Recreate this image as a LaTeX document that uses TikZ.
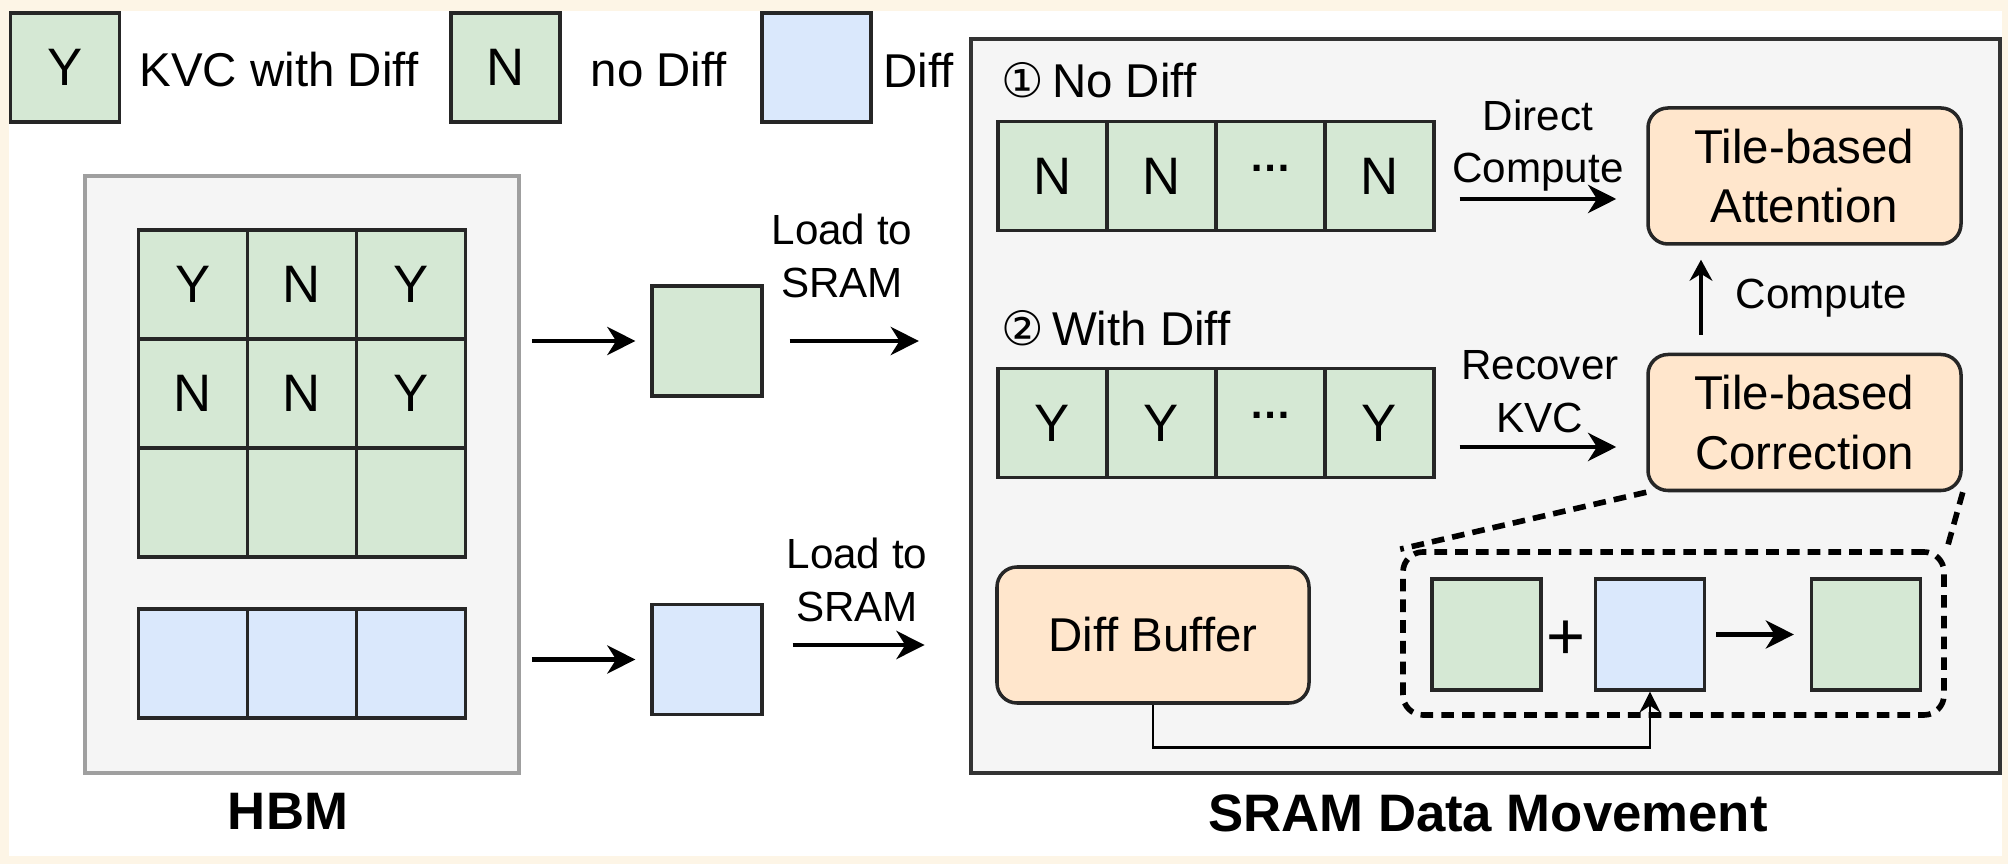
\documentclass[tikz,border=0pt]{standalone}
\usepackage{fontspec}
\setmainfont{Liberation Sans}
\newfontfamily\circfont{DejaVu Sans}
\usetikzlibrary{arrows.meta,positioning,calc}

\definecolor{kvgreen}{HTML}{D5E8D4}
\definecolor{diffblue}{HTML}{DAE8FC}
\definecolor{peach}{HTML}{FFE6CC}
\definecolor{panel}{HTML}{F5F5F5}
\definecolor{cream}{HTML}{FDF5E6}
\newcommand{\tiledots}{\raisebox{0.3em}{\bfseries\fontsize{12}{12}\selectfont\char"2026}}

\begin{document}
\begin{tikzpicture}[>={Stealth[length=8pt,width=8pt,inset=2.5pt]},x=1cm,y=-1cm,
  cell/.style={rectangle,draw=black!85,line width=0.9pt,fill=kvgreen,minimum width=1.09cm,minimum height=1.09cm,inner sep=0pt,font=\fontsize{15}{18}\selectfont},
  dcell/.style={cell,fill=diffblue},
  panelbox/.style={rectangle,fill=panel,inner sep=0pt},
  unit/.style={rectangle,rounded corners=0.2cm,draw=black!85,line width=1pt,fill=peach,align=center,minimum width=3.13cm,minimum height=1.36cm,font=\fontsize{13.5}{17}\selectfont},
  txt/.style={font=\fontsize{13.5}{16}\selectfont,inner sep=0pt},
  lbl/.style={font=\fontsize{12}{15}\selectfont,align=center,inner sep=0pt},
  heading/.style={font=\fontsize{15}{18}\selectfont\bfseries,inner sep=0pt},
  arr/.style={->,line width=1.3pt},
  feed/.style={->,line width=0.8pt,>={Stealth[length=6pt,width=6pt,inset=2pt]}},
  zoomline/.style={line width=1.6pt,dash pattern=on 3.6pt off 2.3pt}]
% page: cream frame round a white sheet
\fill[cream] (0,0) rectangle (20.08,8.64);
\fill[white] (0.09,0.11) rectangle (20.02,8.56);
\useasboundingbox (0,0) rectangle (20.08,8.64);
% legend along the top
\node[cell] (keyY) at (0.65,0.675) {Y};
\node[txt,anchor=west] (keyYt) at (1.39,0.70) {KVC with Diff};
\node[cell] (keyN) at (5.055,0.675) {N};
\node[txt,anchor=west] (keyNt) at (5.90,0.70) {no Diff};
\node[dcell] (keyD) at (8.165,0.675) {};
\node[txt,anchor=west] (keyDt) at (8.83,0.70) {Diff};
% HBM with the KV cache tiles and the diff tiles
\node[panelbox,draw=gray!75,line width=1.1pt,minimum width=4.34cm,minimum height=5.97cm] (hbm) at (3.02,4.745) {};
\node[cell] (h11) at (1.93,2.845) {Y};
\node[cell] (h12) at (3.02,2.845) {N};
\node[cell] (h13) at (4.11,2.845) {Y};
\node[cell] (h21) at (1.93,3.935) {N};
\node[cell] (h22) at (3.02,3.935) {N};
\node[cell] (h23) at (4.11,3.935) {Y};
\node[cell] (h31) at (1.93,5.025) {};
\node[cell] (h32) at (3.02,5.025) {};
\node[cell] (h33) at (4.11,5.025) {};
\node[dcell] (d1) at (1.93,6.635) {};
\node[dcell] (d2) at (3.02,6.635) {};
\node[dcell] (d3) at (4.11,6.635) {};
\node[heading] (hbmlbl) at (2.88,8.11) {HBM};
% tiles on their way to SRAM
\node[cell,minimum width=1.10cm,minimum height=1.10cm] (sg) at (7.07,3.41) {};
\node[dcell,minimum width=1.10cm,minimum height=1.10cm] (sb) at (7.07,6.595) {};
% SRAM panel
\node[panelbox,draw=black!80,line width=1.2pt,minimum width=10.29cm,minimum height=7.34cm] (sram) at (14.855,4.06) {};
\node[heading] (sramlbl) at (14.88,8.13) {SRAM Data Movement};
\draw[arr] ([xshift=0.11cm]hbm.east |- sg.west) -- ([xshift=-0.15cm]sg.west);
\draw[arr] ([xshift=0.26cm]sg.east) -- ([xshift=-0.5cm]sram.west |- sg.east);
\node[lbl] (load1) at (8.42,2.56) {Load to\\SRAM};
\draw[arr] ([xshift=0.11cm]hbm.east |- sb.west) -- ([xshift=-0.15cm]sb.west);
\draw[arr] ([shift={(0.29,-0.145)}]sb.east) -- ++(1.32,0);
\node[lbl] (load2) at (8.57,5.80) {Load to\\SRAM};
% case 1: no diff
\node[txt,anchor=west] (case1) at (10.01,0.80) {{\circfont ①}\,No Diff};
\node[cell] (n1) at (10.525,1.76) {N};
\node[cell] (n2) at (11.615,1.76) {N};
\node[cell] (n3) at (12.705,1.76) {\tiledots};
\node[cell] (n4) at (13.795,1.76) {N};
\node[unit] (att) at (18.045,1.76) {Tile-based\\Attention};
\draw[arr] ([shift={(0.24,0.23)}]n4.east) -- ([shift={(-0.30,0.23)}]att.west);
\node[lbl] (direct) at (15.38,1.455) {Direct\\Compute};
% case 2: with diff
\node[txt,anchor=west] (case2) at (10.01,3.28) {{\circfont ②}\,With Diff};
\node[cell] (y1) at (10.525,4.23) {Y};
\node[cell] (y2) at (11.615,4.23) {Y};
\node[cell] (y3) at (12.705,4.23) {\tiledots};
\node[cell] (y4) at (13.795,4.23) {Y};
\node[unit] (cor) at (18.045,4.225) {Tile-based\\Correction};
\draw[arr] ([shift={(0.24,0.24)}]y4.east) -- ([shift={(-0.30,0.245)}]cor.west);
\node[lbl] (recover) at (15.40,3.915) {Recover\\KVC};
\draw[->,line width=0.9pt,>={Stealth[length=6pt,width=6.5pt,inset=2pt]}] ([shift={(-1.035,-0.18)}]cor.north) -- ([shift={(-1.035,0.14)}]att.south);
\node[lbl,anchor=west] (compute) at (17.35,2.98) {Compute};
% correction detail
\node[unit,minimum width=3.12cm] (buf) at (11.53,6.35) {Diff Buffer};
\node[rectangle,zoomline,draw,rounded corners=0.2cm,minimum width=5.41cm,minimum height=1.63cm] (zoombox) at (16.735,6.335) {};
\node[cell,minimum height=1.11cm] (kv) at (14.865,6.345) {};
\node[dcell,minimum height=1.11cm] (df) at (16.50,6.345) {};
\node[cell,minimum height=1.11cm] (res) at (18.66,6.345) {};
\node[font=\fontsize{19}{20}\selectfont,inner sep=0pt] (plus) at (15.66,6.40) {+};
\draw[arr] ([xshift=0.10cm]df.east) -- ([xshift=-0.16cm]res.west);
\draw[feed] (buf.south) -- ++(0,0.43) -| (df.south);
\draw[zoomline] (cor.south west) -- (zoombox.north west);
\draw[zoomline] (cor.south east) -- (zoombox.north east);
\end{tikzpicture}
\end{document}
